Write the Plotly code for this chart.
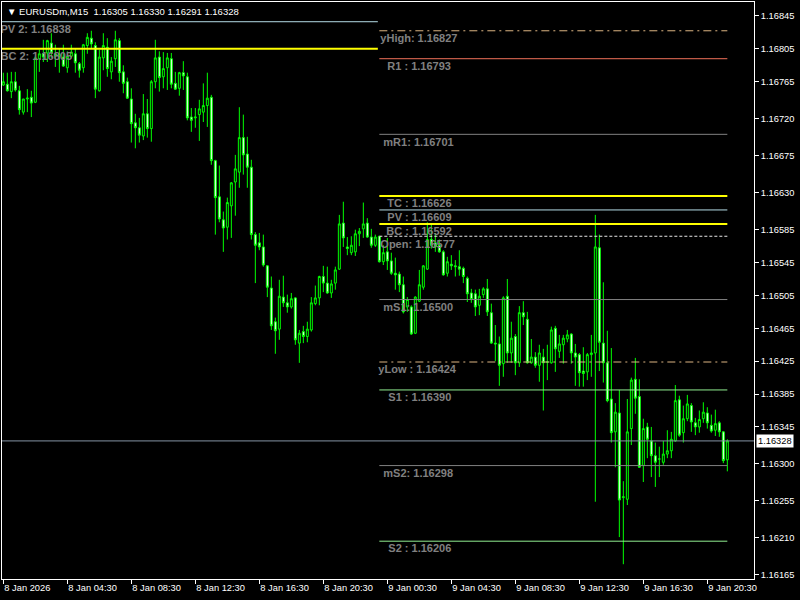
import pandas as pd
import plotly.graph_objects as go

# ---------------- data ----------------
chart_title = "EURUSDm,M15  1.16305 1.16330 1.16291 1.16328"
bar_start = "2026-01-08 00:30"
bar_freq = "15min"

opens = [
    1.16761, 1.16762, 1.16753, 1.16765, 1.16754, 1.16728, 1.16744, 1.16746, 1.16740, 1.16793,
    1.16799, 1.16800, 1.16812, 1.16799, 1.16796, 1.16795, 1.16782, 1.16796, 1.16799, 1.16787,
    1.16782, 1.16809, 1.16818, 1.16809, 1.16754, 1.16794, 1.16807, 1.16777, 1.16793, 1.16815,
    1.16777, 1.16765, 1.16744, 1.16715, 1.16709, 1.16699, 1.16726, 1.16708, 1.16765, 1.16795,
    1.16771, 1.16782, 1.16793, 1.16763, 1.16757, 1.16776, 1.16771, 1.16722, 1.16721, 1.16725,
    1.16728, 1.16736, 1.16746, 1.16669, 1.16625, 1.16597, 1.16588, 1.16614, 1.16643, 1.16655,
    1.16697, 1.16677, 1.16661, 1.16579, 1.16569, 1.16564, 1.16541, 1.16514, 1.16473, 1.16464,
    1.16503, 1.16496, 1.16491, 1.16502, 1.16447, 1.16461, 1.16455, 1.16463, 1.16495, 1.16502,
    1.16528, 1.16520, 1.16508, 1.16520, 1.16537, 1.16593, 1.16564, 1.16557, 1.16558, 1.16580,
    1.16586, 1.16593, 1.16576, 1.16566, 1.16577, 1.16546, 1.16558, 1.16547, 1.16532, 1.16531,
    1.16518, 1.16491, 1.16491, 1.16459, 1.16498, 1.16515, 1.16537, 1.16573, 1.16569, 1.16566,
    1.16558, 1.16532, 1.16543, 1.16541, 1.16540, 1.16538, 1.16526, 1.16508, 1.16507, 1.16493,
    1.16506, 1.16513, 1.16484, 1.16447, 1.16446, 1.16422, 1.16504, 1.16435, 1.16455, 1.16423,
    1.16484, 1.16476, 1.16423, 1.16430, 1.16420, 1.16430, 1.16424, 1.16423, 1.16465, 1.16437,
    1.16445, 1.16452, 1.16458, 1.16435, 1.16433, 1.16413, 1.16412, 1.16433, 1.16435, 1.16563,
    1.16447, 1.16423, 1.16379, 1.16339, 1.16362, 1.16259, 1.16257, 1.16343, 1.16403, 1.16382,
    1.16298, 1.16345, 1.16328, 1.16310, 1.16306, 1.16302, 1.16312, 1.16316, 1.16328, 1.16378,
    1.16338, 1.16355, 1.16371, 1.16350, 1.16345, 1.16355, 1.16362, 1.16347, 1.16341, 1.16350,
    1.16339, 1.16305,
]
highs = [
    1.16776, 1.16776, 1.16777, 1.16777, 1.16760, 1.16744, 1.16756, 1.16754, 1.16796, 1.16804,
    1.16816, 1.16816, 1.16824, 1.16810, 1.16806, 1.16810, 1.16802, 1.16810, 1.16806, 1.16789,
    1.16811, 1.16824, 1.16827, 1.16813, 1.16804, 1.16824, 1.16818, 1.16795, 1.16827, 1.16818,
    1.16785, 1.16770, 1.16757, 1.16726, 1.16721, 1.16750, 1.16744, 1.16767, 1.16816, 1.16802,
    1.16801, 1.16800, 1.16800, 1.16777, 1.16777, 1.16790, 1.16776, 1.16733, 1.16733, 1.16743,
    1.16763, 1.16776, 1.16749, 1.16670, 1.16663, 1.16607, 1.16624, 1.16643, 1.16676, 1.16734,
    1.16725, 1.16698, 1.16670, 1.16582, 1.16581, 1.16579, 1.16542, 1.16528, 1.16478, 1.16524,
    1.16529, 1.16506, 1.16508, 1.16503, 1.16463, 1.16468, 1.16473, 1.16503, 1.16517, 1.16529,
    1.16541, 1.16540, 1.16524, 1.16540, 1.16603, 1.16619, 1.16576, 1.16577, 1.16585, 1.16587,
    1.16618, 1.16599, 1.16586, 1.16579, 1.16577, 1.16566, 1.16575, 1.16557, 1.16551, 1.16534,
    1.16528, 1.16503, 1.16493, 1.16504, 1.16536, 1.16542, 1.16594, 1.16593, 1.16581, 1.16573,
    1.16560, 1.16552, 1.16554, 1.16548, 1.16560, 1.16540, 1.16528, 1.16513, 1.16512, 1.16513,
    1.16515, 1.16525, 1.16495, 1.16469, 1.16455, 1.16504, 1.16525, 1.16473, 1.16458, 1.16492,
    1.16498, 1.16485, 1.16452, 1.16436, 1.16445, 1.16440, 1.16445, 1.16467, 1.16468, 1.16457,
    1.16457, 1.16463, 1.16459, 1.16446, 1.16435, 1.16442, 1.16435, 1.16457, 1.16603, 1.16579,
    1.16521, 1.16462, 1.16441, 1.16374, 1.16390, 1.16279, 1.16379, 1.16405, 1.16429, 1.16403,
    1.16355, 1.16350, 1.16345, 1.16326, 1.16321, 1.16328, 1.16341, 1.16339, 1.16396, 1.16383,
    1.16371, 1.16384, 1.16374, 1.16356, 1.16365, 1.16375, 1.16369, 1.16360, 1.16366, 1.16352,
    1.16340, 1.16330,
]
lows = [
    1.16760, 1.16753, 1.16745, 1.16753, 1.16725, 1.16725, 1.16728, 1.16722, 1.16739, 1.16777,
    1.16789, 1.16789, 1.16794, 1.16783, 1.16776, 1.16783, 1.16776, 1.16794, 1.16776, 1.16770,
    1.16776, 1.16799, 1.16806, 1.16745, 1.16753, 1.16779, 1.16771, 1.16768, 1.16783, 1.16765,
    1.16751, 1.16744, 1.16691, 1.16684, 1.16691, 1.16694, 1.16697, 1.16692, 1.16757, 1.16753,
    1.16757, 1.16755, 1.16757, 1.16755, 1.16748, 1.16755, 1.16718, 1.16704, 1.16709, 1.16693,
    1.16716, 1.16710, 1.16664, 1.16579, 1.16594, 1.16558, 1.16573, 1.16575, 1.16602, 1.16636,
    1.16652, 1.16636, 1.16573, 1.16520, 1.16560, 1.16540, 1.16503, 1.16463, 1.16434, 1.16451,
    1.16491, 1.16484, 1.16489, 1.16445, 1.16423, 1.16447, 1.16448, 1.16461, 1.16493, 1.16493,
    1.16509, 1.16507, 1.16502, 1.16512, 1.16536, 1.16564, 1.16554, 1.16554, 1.16553, 1.16565,
    1.16575, 1.16575, 1.16563, 1.16564, 1.16545, 1.16542, 1.16536, 1.16530, 1.16512, 1.16509,
    1.16483, 1.16485, 1.16457, 1.16458, 1.16497, 1.16512, 1.16536, 1.16562, 1.16558, 1.16557,
    1.16529, 1.16528, 1.16536, 1.16528, 1.16529, 1.16520, 1.16497, 1.16496, 1.16480, 1.16481,
    1.16502, 1.16480, 1.16446, 1.16425, 1.16395, 1.16406, 1.16423, 1.16423, 1.16408, 1.16418,
    1.16469, 1.16422, 1.16422, 1.16417, 1.16400, 1.16365, 1.16402, 1.16422, 1.16412, 1.16429,
    1.16422, 1.16448, 1.16422, 1.16395, 1.16394, 1.16394, 1.16402, 1.16406, 1.16254, 1.16413,
    1.16399, 1.16375, 1.16326, 1.16296, 1.16211, 1.16178, 1.16250, 1.16323, 1.16361, 1.16295,
    1.16278, 1.16307, 1.16284, 1.16272, 1.16284, 1.16299, 1.16307, 1.16307, 1.16327, 1.16333,
    1.16326, 1.16352, 1.16339, 1.16335, 1.16338, 1.16350, 1.16343, 1.16338, 1.16334, 1.16333,
    1.16301, 1.16291,
]
closes = [
    1.16765, 1.16754, 1.16765, 1.16755, 1.16731, 1.16744, 1.16745, 1.16739, 1.16794, 1.16799,
    1.16795, 1.16815, 1.16800, 1.16796, 1.16798, 1.16784, 1.16796, 1.16801, 1.16788, 1.16779,
    1.16810, 1.16819, 1.16811, 1.16756, 1.16795, 1.16809, 1.16781, 1.16790, 1.16816, 1.16776,
    1.16763, 1.16745, 1.16714, 1.16709, 1.16700, 1.16726, 1.16708, 1.16765, 1.16794, 1.16770,
    1.16781, 1.16794, 1.16762, 1.16756, 1.16776, 1.16772, 1.16721, 1.16718, 1.16722, 1.16732,
    1.16736, 1.16745, 1.16669, 1.16624, 1.16598, 1.16587, 1.16618, 1.16642, 1.16659, 1.16697,
    1.16676, 1.16661, 1.16579, 1.16566, 1.16564, 1.16542, 1.16515, 1.16468, 1.16462, 1.16504,
    1.16496, 1.16491, 1.16501, 1.16451, 1.16459, 1.16455, 1.16464, 1.16496, 1.16502, 1.16528,
    1.16520, 1.16508, 1.16519, 1.16536, 1.16592, 1.16575, 1.16562, 1.16566, 1.16580, 1.16583,
    1.16592, 1.16576, 1.16566, 1.16576, 1.16546, 1.16557, 1.16547, 1.16532, 1.16530, 1.16518,
    1.16485, 1.16500, 1.16458, 1.16503, 1.16518, 1.16541, 1.16573, 1.16566, 1.16564, 1.16558,
    1.16530, 1.16546, 1.16541, 1.16540, 1.16537, 1.16528, 1.16507, 1.16500, 1.16491, 1.16504,
    1.16513, 1.16485, 1.16447, 1.16446, 1.16420, 1.16502, 1.16435, 1.16453, 1.16423, 1.16484,
    1.16479, 1.16423, 1.16430, 1.16420, 1.16435, 1.16423, 1.16424, 1.16463, 1.16440, 1.16446,
    1.16453, 1.16457, 1.16435, 1.16430, 1.16411, 1.16410, 1.16433, 1.16435, 1.16564, 1.16448,
    1.16423, 1.16377, 1.16338, 1.16363, 1.16256, 1.16260, 1.16339, 1.16402, 1.16380, 1.16296,
    1.16343, 1.16330, 1.16310, 1.16302, 1.16306, 1.16312, 1.16316, 1.16330, 1.16377, 1.16335,
    1.16355, 1.16373, 1.16351, 1.16345, 1.16354, 1.16363, 1.16350, 1.16340, 1.16349, 1.16339,
    1.16304, 1.16328,
]

# pivot levels of the current day (start at day open, end at last bar)
level_names = ["yHigh", "R1", "mR1", "TC", "PV", "BC", "Open", "mS1", "yLow", "S1", "mS2", "S2"]
level_values = [1.16827, 1.16793, 1.16701, 1.16626, 1.16609, 1.16592, 1.16577,
                1.16500, 1.16424, 1.16390, 1.16298, 1.16206]
level_texts = ["yHigh: 1.16827", "R1 : 1.16793", "mR1: 1.16701", "TC : 1.16626",
               "PV : 1.16609", "BC : 1.16592", "Open: 1.16577", "mS1: 1.16500",
               "yLow : 1.16424", "S1 : 1.16390", "mS2: 1.16298", "S2 : 1.16206"]
day_open = "2026-01-09 00:00"

# previous-day levels
prev_names = ["PV 2", "BC 2"]
prev_values = [1.16838, 1.16805]
prev_texts = ["PV 2: 1.16838", "BC 2: 1.16805"]

current_price = 1.16328

y_tickvals = [1.16845, 1.16805, 1.16765, 1.16720, 1.16675, 1.16630, 1.16585, 1.16545,
              1.16505, 1.16465, 1.16425, 1.16385, 1.16345, 1.16300, 1.16255, 1.16210, 1.16165]
x_tickvals = ["2026-01-08 00:30", "2026-01-08 04:30", "2026-01-08 08:30", "2026-01-08 12:30",
              "2026-01-08 16:30", "2026-01-08 20:30", "2026-01-09 00:30", "2026-01-09 04:30",
              "2026-01-09 08:30", "2026-01-09 12:30", "2026-01-09 16:30", "2026-01-09 20:30"]
x_ticktext = ["8 Jan 2026", "8 Jan 04:30", "8 Jan 08:30", "8 Jan 12:30", "8 Jan 16:30",
              "8 Jan 20:30", "9 Jan 00:30", "9 Jan 04:30", "9 Jan 08:30", "9 Jan 12:30",
              "9 Jan 16:30", "9 Jan 20:30"]

# ---------------- styles ----------------
W, H = 800, 600
ML, MR, MT, MB = 2, 46, 2, 21
x_range = [pd.Timestamp("2026-01-08 00:25"), pd.Timestamp("2026-01-09 23:25")]
y_range = [1.16160, 1.16862]

line_style = {
    "yHigh": dict(color="#dcb482", width=1, dash="8px,4px,2px,4px", dx=1),
    "R1":    dict(color="#f0705a", width=1, dash="solid", dx=8),
    "mR1":   dict(color="#808080", width=1, dash="solid", dx=4),
    "TC":    dict(color="#ffff00", width=2, dash="solid", dx=8),
    "PV":    dict(color="#b4dce6", width=1, dash="solid", dx=8),
    "BC":    dict(color="#ffff00", width=2, dash="solid", dx=7),
    "Open":  dict(color="#e8e8e8", width=1, dash="3px,2px", dx=1),
    "mS1":   dict(color="#808080", width=1, dash="solid", dx=4),
    "yLow":  dict(color="#dcb482", width=1, dash="8px,4px,2px,4px", dx=-1),
    "S1":    dict(color="#90ee90", width=1, dash="solid", dx=9),
    "mS2":   dict(color="#808080", width=1, dash="solid", dx=4),
    "S2":    dict(color="#90ee90", width=1, dash="solid", dx=9),
    "PV 2":  dict(color="#b4dce6", width=1, dash="solid", dx=-1.5),
    "BC 2":  dict(color="#ffff00", width=2, dash="solid", dx=-1.5),
}
label_font = dict(family="Liberation Sans, Arial", size=11, color="#808080")
tick_font = dict(family="Liberation Sans, Arial", size=9.3, color="#ffffff")
label_drop_px = 8.5

times = pd.date_range(bar_start, periods=len(opens), freq=bar_freq)
last_time = times[-1]

plot_w = W - ML - MR
plot_h = H - MT - MB
time_per_px = (x_range[1] - x_range[0]) / plot_w
price_per_px = (y_range[1] - y_range[0]) / plot_h

fig = go.Figure()

# level labels (drawn under the candles, like in the terminal)
lab_x, lab_y, lab_t = [], [], []
for name, val, txt in zip(level_names, level_values, level_texts):
    lab_x.append(pd.Timestamp(day_open) + time_per_px * line_style[name]["dx"])
    lab_y.append(val - label_drop_px * price_per_px)
    lab_t.append("<b>" + txt + "</b>")
for name, val, txt in zip(prev_names, prev_values, prev_texts):
    lab_x.append(x_range[0] + time_per_px * line_style[name]["dx"])
    lab_y.append(val - label_drop_px * price_per_px)
    lab_t.append("<b>" + txt + "</b>")
fig.add_trace(go.Scatter(x=lab_x, y=lab_y, text=lab_t, mode="text",
                         textposition="middle right", textfont=label_font,
                         hoverinfo="skip", showlegend=False, cliponaxis=True))

fig.add_trace(go.Candlestick(
    x=times, open=opens, high=highs, low=lows, close=closes,
    increasing=dict(line=dict(color="#00ff00", width=1), fillcolor="#000000"),
    decreasing=dict(line=dict(color="#00ff00", width=1), fillcolor="#ffffff"),
    hoverinfo="skip", showlegend=False,
))

shapes = []
for name, val in zip(level_names, level_values):
    st = line_style[name]
    shapes.append(dict(type="line", xref="x", yref="y", x0=day_open, x1=last_time,
                       y0=val, y1=val,
                       line=dict(color=st["color"], width=st["width"], dash=st["dash"])))
for name, val in zip(prev_names, prev_values):
    st = line_style[name]
    shapes.append(dict(type="line", xref="x", yref="y", x0=x_range[0],
                       x1=pd.Timestamp(day_open) - time_per_px * 1.5,
                       y0=val, y1=val,
                       line=dict(color=st["color"], width=st["width"], dash=st["dash"])))
shapes.append(dict(type="line", xref="paper", yref="y", x0=0, x1=1,
                   y0=current_price, y1=current_price,
                   line=dict(color="#8494a4", width=1)))

annotations = [
    dict(xref="paper", yref="paper", x=0.0, y=1.0, xanchor="left", yanchor="top",
         xshift=3, yshift=-2, showarrow=False,
         text="▼ " + chart_title, font=dict(family="Liberation Sans, Arial", size=9.5, color="#ffffff")),
    dict(xref="paper", yref="y", x=1.0, y=current_price, xanchor="left", yanchor="middle",
         xshift=2, showarrow=False, text=f"{current_price:.5f}", bgcolor="#ffffff",
         font=dict(family="Liberation Sans, Arial", size=9.3, color="#000000"), borderpad=1),
]

fig.update_layout(
    width=W, height=H,
    margin=dict(l=ML, r=MR, t=MT, b=MB, pad=0, autoexpand=False),
    paper_bgcolor="#000000", plot_bgcolor="#000000",
    showlegend=False, shapes=shapes, annotations=annotations,
    hovermode=False,
)
fig.update_xaxes(
    type="date", range=x_range, rangeslider=dict(visible=False), automargin=False,
    showgrid=False, zeroline=False, showline=True, linecolor="#ffffff", linewidth=1,
    mirror=True, ticks="outside", ticklen=4, tickcolor="#ffffff", tickwidth=1,
    tickvals=x_tickvals, ticktext=x_ticktext, tickfont=tick_font,
    ticklabelposition="outside right",
)
fig.update_yaxes(
    range=y_range, side="right", automargin=False, showgrid=False, zeroline=False,
    showline=True, linecolor="#ffffff", linewidth=1, mirror=True, ticks="outside",
    ticklen=4, tickcolor="#ffffff", tickwidth=1, tickvals=y_tickvals,
    ticktext=[f"{v:.5f}" for v in y_tickvals], tickfont=tick_font,
)

fig.write_html(
    "out.html",
    config={"displayModeBar": False},
    post_script="document.body.style.margin='0';document.body.style.background='#000';"
                "document.body.style.overflow='hidden';",
)
